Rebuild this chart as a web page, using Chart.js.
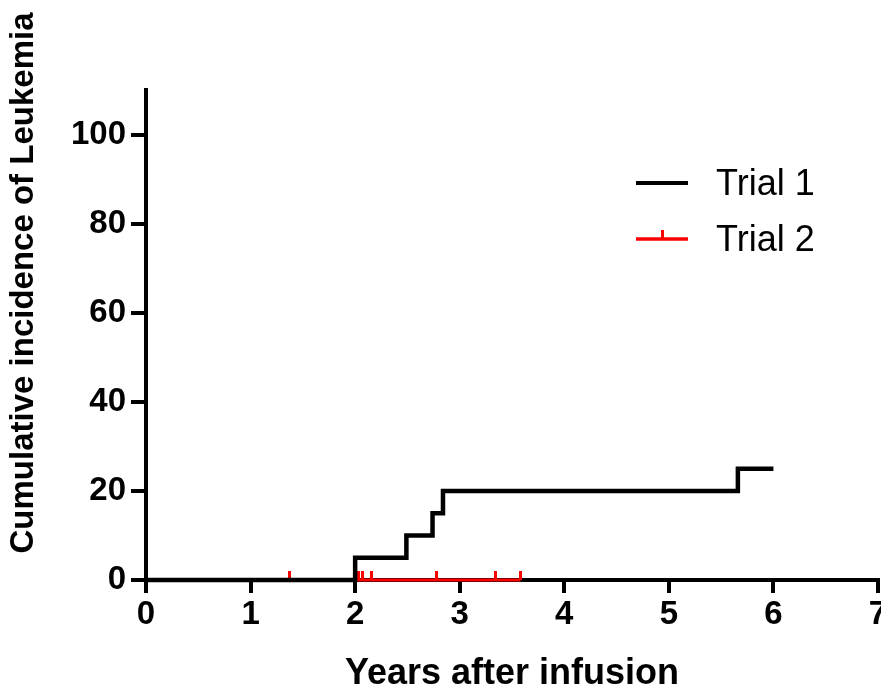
<!DOCTYPE html>
<html>
<head>
<meta charset="utf-8">
<script src="https://cdn.jsdelivr.net/npm/chart.js@4.4.0/dist/chart.umd.min.js"></script>
<style>
  html, body { margin: 0; padding: 0; background: #fff; }
</style>
</head>
<body>
<canvas id="km" width="881" height="692"></canvas>
<script>
// Trial 1: step curve (years after infusion, cumulative incidence %)
const trial1Years = [0, 2.0, 2.49, 2.74, 2.84, 5.66, 6.0];
const trial1Incidence = [0, 5, 10, 15, 20, 25, 25];
// Trial 2: flat at zero, censored at each point after the first
const trial2Years = [0, 1.37, 2.03, 2.07, 2.16, 2.78, 3.34, 3.58];
const trial2Incidence = [0, 0, 0, 0, 0, 0, 0, 0];
const yTickValues = [0, 20, 40, 60, 80, 100];
const seriesNames = ['Trial 1', 'Trial 2'];
const xTitle = 'Years after infusion';
const yTitle = 'Cumulative incidence of Leukemia';

const FONT = '"Liberation Sans", Arial, sans-serif';
const RED = '#f00';

// little upward tick used as the censor mark
function censorMark() {
  const c = document.createElement('canvas');
  c.width = 3; c.height = 18;
  const g = c.getContext('2d');
  g.fillStyle = RED;
  g.fillRect(0, 0, 3, 9);
  return c;
}
const mark = censorMark();

const toPoints = (xs, ys) => xs.map((x, i) => ({ x: x, y: ys[i] }));

const extras = {
  id: 'extras',
  afterDraw(chart) {
    const ctx = chart.ctx;
    ctx.save();
    // legend
    ctx.font = '36px ' + FONT;
    ctx.textBaseline = 'alphabetic';
    ctx.textAlign = 'left';
    chart.data.datasets.forEach((ds, i) => {
      const y = 183 + i * 56;
      ctx.strokeStyle = ds.borderColor;
      ctx.lineWidth = i === 0 ? 4 : 3.5;
      ctx.beginPath();
      ctx.moveTo(636, y);
      ctx.lineTo(688, y);
      ctx.stroke();
      if (i === 1) {
        ctx.fillStyle = RED;
        ctx.fillRect(661, y - 9, 3, 9);
      }
      ctx.fillStyle = '#000';
      ctx.fillText(ds.label, 716, y + 12);
    });
    // y axis title
    ctx.translate(24, 283);
    ctx.rotate(-Math.PI / 2);
    ctx.font = 'bold 33px ' + FONT;
    ctx.textAlign = 'center';
    ctx.textBaseline = 'middle';
    ctx.fillText(yTitle, 0, 0);
    ctx.restore();
  }
};

new Chart(document.getElementById('km'), {
  type: 'line',
  data: {
    datasets: [{
      label: seriesNames[0],
      data: toPoints(trial1Years, trial1Incidence),
      borderColor: '#000',
      borderWidth: 4.5,
      stepped: true,
      pointRadius: 0,
      fill: false,
      clip: false
    }, {
      label: seriesNames[1],
      data: toPoints(trial2Years, trial2Incidence),
      borderColor: RED,
      borderWidth: 3,
      pointStyle: mark,
      pointRadius: ctx => ctx.dataIndex === 0 ? 0 : 5,
      pointHoverRadius: 0,
      fill: false,
      clip: false
    }]
  },
  options: {
    responsive: false,
    animation: false,
    events: [],
    layout: { autoPadding: false, padding: { top: 90, right: 3, left: 0, bottom: 0 } },
    plugins: { legend: { display: false }, tooltip: { enabled: false } },
    scales: {
      x: {
        type: 'linear',
        min: 0, max: 7,
        ticks: { stepSize: 1, color: '#000', padding: 2,
          font: { family: FONT, size: 33, weight: 'bold' } },
        grid: { drawOnChartArea: false, color: '#000', lineWidth: 4, tickLength: 13 },
        border: { color: '#000', width: 4 },
        title: { display: true, text: xTitle, color: '#000', padding: { top: 0, bottom: -4 },
          font: { family: FONT, size: 36, weight: 'bold' } },
        afterFit(scale) { scale.height = 112; scale.paddingLeft = 0; scale.paddingRight = 0; }
      },
      y: {
        min: 0, max: 110,
        afterBuildTicks(scale) { scale.ticks = yTickValues.map(v => ({ value: v })); },
        ticks: { color: '#000', padding: 5,
          font: { family: FONT, size: 33, weight: 'bold' } },
        grid: { drawOnChartArea: false, color: '#000', lineWidth: 4, tickLength: 15 },
        border: { color: '#000', width: 4 },
        afterFit(scale) { scale.width = 146; scale.paddingTop = 0; scale.paddingBottom = 0; }
      }
    }
  },
  plugins: [extras]
});
</script>
</body>
</html>
